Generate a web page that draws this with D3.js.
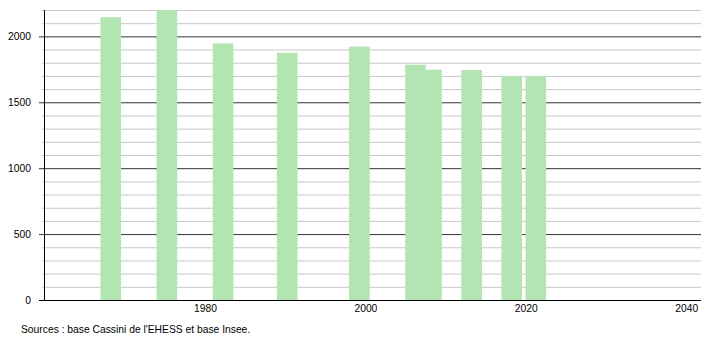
<!DOCTYPE html>
<html>
<head>
<meta charset="utf-8">
<script src="https://cdn.jsdelivr.net/npm/d3@7"></script>
<style>
  body { margin: 0; background: #fff; }
  text { font-family: 'Liberation Sans', Arial, sans-serif; }
</style>
</head>
<body>
<div id="chart"></div>
<script>
const years = [1968, 1975, 1982, 1990, 1999, 2006, 2008, 2013, 2018, 2021]
const population = [2145, 2200, 1947, 1876, 1922, 1785, 1747, 1745, 1699, 1699]
const xTicks = [1980, 2000, 2020, 2040]
const yTicks = [0, 500, 1000, 1500, 2000]
const source = "Sources : base Cassini de l'EHESS et base Insee."

let width = 710, height = 340
let svg = d3.select('#chart').append('svg')
            .attr('width', width)
            .attr('height', height)

let x = d3.scaleLinear().domain([1980, 2040]).range([205.5, 686.7])
let y = d3.scaleLinear().domain([0, 2200]).range([300, 10])
let left = 44, right = 701

// minor grid every 100
svg.append('g')
   .selectAll('line')
   .data(d3.range(100, 2201, 100).filter(d => d % 500 !== 0))
   .join('line')
   .attr('x1', left - 2).attr('x2', right)
   .attr('y1', d => y(d) + 0.5).attr('y2', d => y(d) + 0.5)
   .attr('stroke', '#c8c8c8')
   .attr('stroke-width', 1)

// major grid
svg.append('g')
   .selectAll('line')
   .data(yTicks.filter(d => d > 0))
   .join('line')
   .attr('x1', left - 5).attr('x2', right)
   .attr('y1', d => y(d) + 0.5).attr('y2', d => y(d) + 0.5)
   .attr('stroke', '#333')
   .attr('stroke-width', 1)

// bars
svg.append('g')
   .selectAll('rect')
   .data(years.map((yr, i) => ({ yr, v: population[i] })))
   .join('rect')
   .attr('x', d => x(d.yr) - 8.8)
   .attr('width', 20.6)
   .attr('y', d => y(d.v))
   .attr('height', d => y(0) - y(d.v))
   .attr('fill', '#b2e5b2')

// axes lines
svg.append('line')
   .attr('x1', left + 0.5).attr('x2', left + 0.5)
   .attr('y1', 10).attr('y2', 300)
   .attr('stroke', '#000')
svg.append('line')
   .attr('x1', left - 5).attr('x2', right)
   .attr('y1', 300.5).attr('y2', 300.5)
   .attr('stroke', '#000')

// y labels
svg.append('g')
   .selectAll('text')
   .data(yTicks)
   .join('text')
   .attr('x', 31)
   .attr('y', d => y(d) + 4)
   .attr('text-anchor', 'end')
   .attr('font-size', 10.3)
   .attr('fill', '#000')
   .text(d => d)

// x labels
svg.append('g')
   .selectAll('text')
   .data(xTicks)
   .join('text')
   .attr('x', d => Math.min(x(d), 688.5))
   .attr('y', 312)
   .attr('text-anchor', 'middle')
   .attr('font-size', 10.3)
   .attr('fill', '#000')
   .text(d => d)

svg.append('text')
   .attr('x', 21)
   .attr('y', 333)
   .attr('font-size', 10.3)
   .attr('fill', '#000')
   .text(source)
</script>
</body>
</html>
